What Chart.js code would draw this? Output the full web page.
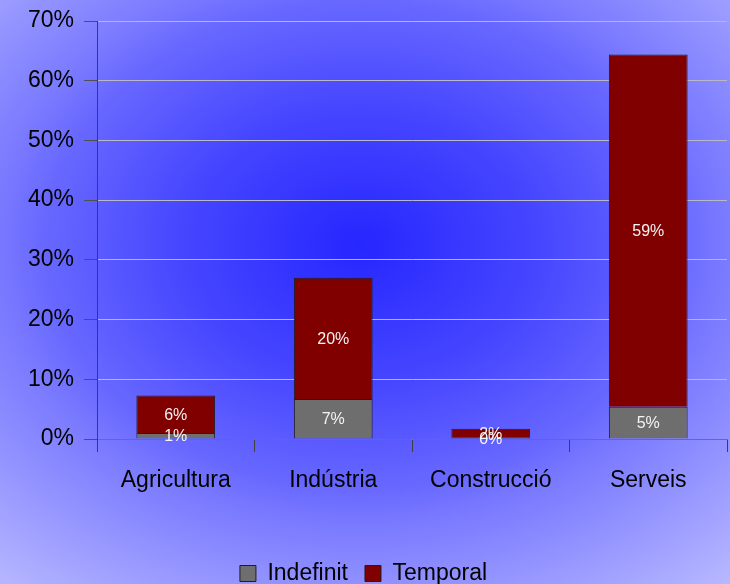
<!DOCTYPE html>
<html>
<head>
<meta charset="utf-8">
<script src="https://cdn.jsdelivr.net/npm/chart.js@4.4.0/dist/chart.umd.min.js"></script>
<style>
  html, body { margin: 0; padding: 0; background: #b8b8ff; }
  #wrap { width: 730px; height: 584px; position: relative; }
</style>
</head>
<body>
<div id="wrap"><canvas id="grafic"></canvas></div>
<script>
/* DADES */
const sectors = ["Agricultura", "Indústria", "Construcció", "Serveis"]
const indefinit = [1.0, 6.7, 0.2, 5.4]
const temporal = [6.3, 20.3, 1.5, 59.0]
const ticksY = [0, 10, 20, 30, 40, 50, 60, 70]

const FONT = "'Liberation Sans', Arial, sans-serif"

/* fons amb degradat radial blau */
const fonsBlau = {
    id: "fonsBlau",
    beforeDraw(chart) {
        let ctx = chart.ctx
        let cx = 360, cy = 245, sx = 1.3
        ctx.save()
        ctx.translate(cx, cy)
        ctx.scale(sx, 1)
        let g = ctx.createRadialGradient(0, 0, 0, 0, 0, 460)
        g.addColorStop(0, "#2626ff")
        g.addColorStop(0.3, "#4646ff")
        g.addColorStop(0.53, "#6868ff")
        g.addColorStop(0.61, "#7a7aff")
        g.addColorStop(0.96, "#b8b8ff")
        g.addColorStop(1, "#bcbcff")
        ctx.fillStyle = g
        ctx.fillRect(-cx / sx - 10, -cy - 10, chart.width / sx + 20, chart.height + 20)
        ctx.restore()
    }
}

/* etiquetes de percentatge dins les barres */
const etiquetes = {
    id: "etiquetes",
    afterDatasetsDraw(chart) {
        let ctx = chart.ctx
        ctx.save()
        ctx.font = "16px " + FONT
        ctx.fillStyle = "#f4f4f4"
        ctx.textAlign = "center"
        ctx.textBaseline = "middle"
        chart.data.datasets.forEach((ds, i) => {
            chart.getDatasetMeta(i).data.forEach((bar, j) => {
                let mig = (bar.y + bar.base) / 2
                ctx.fillText(Math.round(ds.data[j]) + "%", bar.x, mig + 1)
            })
        })
        ctx.restore()
    }
}

new Chart(document.getElementById("grafic").getContext("2d"), {
    type: "bar",
    data: {
        labels: sectors,
        datasets: [{
                label: "Indefinit",
                data: indefinit,
                backgroundColor: "#6e6e6e",
                borderColor: "#1e1e1e",
                borderWidth: 1
            },
            {
                label: "Temporal",
                data: temporal,
                backgroundColor: "#800000",
                borderColor: "#1e1e1e",
                borderWidth: 1
            }
        ]
    },
    options: {
        responsive: true,
        maintainAspectRatio: false,
        animation: false,
        layout: { padding: { top: 21, right: 3, left: 0, bottom: -11 } },
        datasets: { bar: { categoryPercentage: 1, barPercentage: 0.5 } },
        plugins: {
            legend: {
                position: "bottom",
                labels: {
                    font: { family: FONT, size: 23 },
                    color: "#000",
                    boxWidth: 16,
                    boxHeight: 16,
                    padding: 17,
                    useBorderRadius: false
                }
            },
            tooltip: { enabled: false }
        },
        scales: {
            x: {
                stacked: true,
                afterFit(scale) { scale.height = 106 },
                border: { color: "#707070", width: 1 },
                grid: {
                    offset: true,
                    drawOnChartArea: false,
                    color: "#404040",
                    tickLength: 13
                },
                ticks: {
                    font: { family: FONT, size: 23 },
                    color: "#000",
                    padding: 15,
                    maxRotation: 0
                }
            },
            y: {
                stacked: true,
                min: 0,
                max: 70,
                afterFit(scale) {
                    scale.width = 97
                    scale.paddingTop = 0
                },
                afterBuildTicks(scale) { scale.ticks = ticksY.map(v => ({ value: v })) },
                border: { color: "#404040", width: 1 },
                grid: {
                    color: "#b8b8c8",
                    tickColor: "#505050",
                    tickLength: 13
                },
                ticks: {
                    font: { family: FONT, size: 23 },
                    color: "#000",
                    padding: 10,
                    callback: v => v + "%"
                }
            }
        }
    },
    plugins: [fonsBlau, etiquetes]
})
</script>
</body>
</html>
